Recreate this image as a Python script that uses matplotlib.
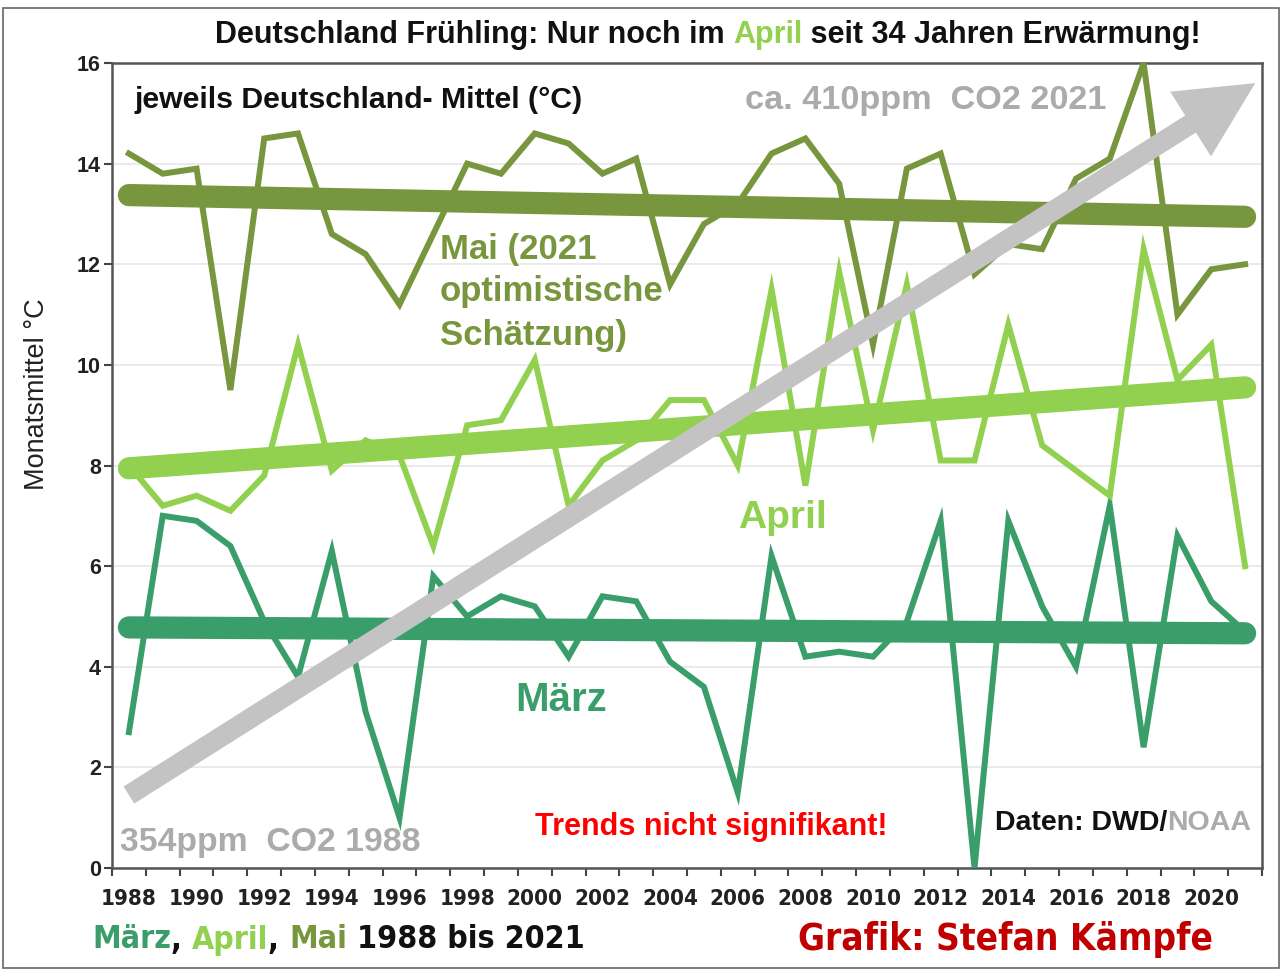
import matplotlib
matplotlib.use("Agg")
import matplotlib.pyplot as plt
import numpy as np
from matplotlib import font_manager
from matplotlib.font_manager import FontProperties
from matplotlib.patches import FancyArrowPatch, ArrowStyle, Rectangle

SANS = 'Liberation Sans'
narrow_file = None
for f in font_manager.fontManager.ttflist:
    if ('Narrow' in f.name or 'Condensed' in f.name or f.stretch in ('condensed', 'semi-condensed')) \
            and f.weight in ('bold', 700):
        if narrow_file is None or 'Liberation' in f.name:
            narrow_file = f.fname


def narrow_fp(size):
    if narrow_file:
        return FontProperties(fname=narrow_file, size=size)
    return FontProperties(family=SANS, weight='bold', size=size * 0.8)


years = list(range(1988, 2022))
maerz = [2.7, 7.0, 6.9, 6.4, 4.9, 3.8, 6.3, 3.1, 1.0, 5.8, 5.0, 5.4, 5.2, 4.2, 5.4, 5.3, 4.1,
         3.6, 1.5, 6.2, 4.2, 4.3, 4.2, 4.9, 6.9, 0.0, 6.9, 5.2, 4.0, 7.2, 2.4, 6.6, 5.3, 4.7]
april = [8.0, 7.2, 7.4, 7.1, 7.8, 10.4, 7.9, 8.5, 8.2, 6.4, 8.8, 8.9, 10.1, 7.2, 8.1, 8.5, 9.3,
         9.3, 8.0, 11.5, 7.6, 11.85, 8.7, 11.6, 8.1, 8.1, 10.8, 8.4, 7.9, 7.4, 12.3, 9.7, 10.4, 6.0]
mai = [14.2, 13.8, 13.9, 9.5, 14.5, 14.6, 12.6, 12.2, 11.2, 12.6, 14.0, 13.8, 14.6, 14.4, 13.8,
       14.1, 11.6, 12.8, 13.2, 14.2, 14.5, 13.6, 10.4, 13.9, 14.2, 11.8, 12.4, 12.3, 13.7, 14.1,
       16.0, 11.0, 11.9, 12.0]
yticks = [0, 2, 4, 6, 8, 10, 12, 14, 16]
co2_start = (0.0, 1.45)     # (category index, °C)
co2_end = (33.3, 15.6)

C_MAERZ = '#3a9e6a'
C_APRIL = '#92d050'
C_MAI = '#77963d'
C_GRAY = '#c3c3c3'
C_GTEXT = '#ababab'

W, H = 1282, 977
fig = plt.figure(figsize=(W / 100, H / 100), dpi=100)
fig.patch.set_facecolor('white')
ax = fig.add_axes([112 / W, 1 - 868 / H, (1262 - 112) / W, (868 - 63) / H])

x = np.arange(len(years))
for vals, col in [(maerz, C_MAERZ), (april, C_APRIL), (mai, C_MAI)]:
    ax.plot(x, vals, color=col, lw=4.3, solid_joinstyle='miter', zorder=3)
for vals, col in [(maerz, C_MAERZ), (april, C_APRIL), (mai, C_MAI)]:
    k, d = np.polyfit(x, vals, 1)
    ax.plot([x[0], x[-1]], [d + k * x[0], d + k * x[-1]], color=col, lw=16,
            solid_capstyle='round', zorder=4)

arr = FancyArrowPatch(co2_start, co2_end,
                      arrowstyle=ArrowStyle.Simple(head_length=3.8, head_width=3.8, tail_width=1.0),
                      mutation_scale=14.5, color=C_GRAY, lw=0, zorder=5, clip_on=False,
                      shrinkA=0, shrinkB=0)
ax.add_patch(arr)

ax.set_xlim(-0.5, len(years) - 0.5)
ax.set_ylim(0, 16)
ax.set_yticks(yticks)
ax.set_yticklabels([str(v) for v in yticks], fontfamily=SANS, fontweight='bold', fontsize=15.5)
ax.set_xticks(x[::2])
ax.set_xticklabels([str(y) for y in years[::2]])
for lab in ax.get_xticklabels():
    lab.set_fontproperties(narrow_fp(16))
ax.set_xticks(np.arange(-0.5, len(years)), minor=True)
ax.tick_params(axis='x', which='major', length=0, pad=15, colors='#222222')
ax.tick_params(axis='x', which='minor', length=6, width=1.5, direction='out', color='#444444')
ax.tick_params(axis='y', length=6, width=1.5, direction='out', color='#444444', pad=2, colors='#222222')
ax.yaxis.grid(True, color='#e8e8e8', lw=1.3, zorder=0)
ax.set_axisbelow(True)
for s in ax.spines.values():
    s.set_color('#555555')
    s.set_linewidth(1.8)
ax.set_ylabel('Monatsmittel °C', fontfamily=SANS, fontsize=19.5, color='#222222')
ax.yaxis.set_label_coords(-0.054, 0.589)

renderer = fig.canvas.get_renderer()


def rich(xpx, ypx, pieces, **kw):
    xx = xpx
    for s, c in pieces:
        t = fig.text(xx / W, 1 - ypx / H, s, color=c, ha='left', va='center', **kw)
        xx += t.get_window_extent(renderer).width
    return xx


def ftext(xpx, ypx, s, **kw):
    return fig.text(xpx / W, 1 - ypx / H, s, ha='left', va='center', **kw)


rich(215, 35, [('Deutschland Frühling: Nur noch im ', '#111111'), ('April', C_APRIL),
               (' seit 34 Jahren Erwärmung!', '#111111')],
     fontfamily=SANS, fontweight='bold', fontsize=22)
ftext(135, 100, 'jeweils Deutschland- Mittel (°C)', fontfamily=SANS, fontweight='bold',
      fontsize=21.8, color='#111111')
ftext(745, 100, 'ca. 410ppm  CO2 2021', fontfamily=SANS, fontweight='bold', fontsize=24.7, color=C_GTEXT)
for line, yy in zip(['Mai (2021', 'optimistische', 'Schätzung)'], [250, 292, 335]):
    ftext(440, yy, line, fontfamily=SANS, fontweight='bold', fontsize=25, color=C_MAI)
ftext(738, 518, 'April', fontfamily=SANS, fontweight='bold', fontsize=28, color=C_APRIL)
ftext(515, 700, 'März', fontfamily=SANS, fontweight='bold', fontsize=29, color=C_MAERZ)
ftext(535, 827, 'Trends nicht signifikant!', fontfamily=SANS, fontweight='bold', fontsize=22,
      color='#ff0000')
rich(995, 823, [('Daten: DWD/', '#111111'), ('NOAA', C_GTEXT)], fontfamily=SANS,
     fontweight='bold', fontsize=20.5)
ftext(120, 843, '354ppm  CO2 1988', fontfamily=SANS, fontweight='bold', fontsize=24.3, color=C_GTEXT)

rich(92, 940, [('März', C_MAERZ), (', ', '#111111'), ('April', C_APRIL), (', ', '#111111'),
               ('Mai', C_MAI), (' 1988 bis 2021', '#111111')],
     fontproperties=narrow_fp(23))
ftext(798, 940, 'Grafik: Stefan Kämpfe', fontproperties=narrow_fp(26.5), color='#c00000')

fig.patches.append(Rectangle((3 / W, 1 - 968 / H), (1279 - 3) / W, (968 - 8) / H,
                             transform=fig.transFigure, fill=False, edgecolor='#666666', lw=1.2))

fig.savefig('out.png', dpi=100, facecolor='white')
